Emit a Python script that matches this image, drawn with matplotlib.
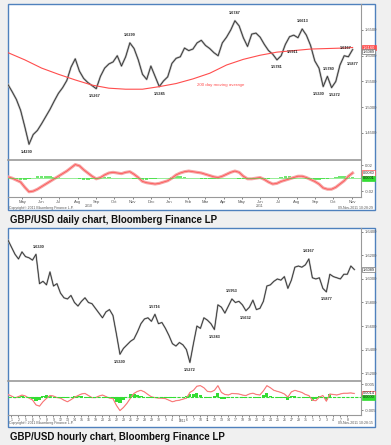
import matplotlib
matplotlib.use("Agg")
import matplotlib.pyplot as plt
import matplotlib.dates as mdates
from matplotlib.patches import Rectangle
import pandas as pd
import numpy as np

W, H = 391, 445

# ---------------- daily chart (weekly readings) ----------------
daily_close = [
    1.544, 1.530, 1.515, 1.494, 1.462, 1.428, 1.447, 1.455, 1.468, 1.482,
    1.496, 1.512, 1.527, 1.538, 1.552, 1.578, 1.594, 1.570, 1.556, 1.548,
    1.542, 1.536, 1.560, 1.576, 1.584, 1.588, 1.600, 1.580, 1.598, 1.625,
    1.614, 1.592, 1.564, 1.554, 1.580, 1.560, 1.540, 1.551, 1.559, 1.585,
    1.595, 1.598, 1.615, 1.610, 1.613, 1.625, 1.630, 1.620, 1.614, 1.606,
    1.600, 1.625, 1.636, 1.650, 1.668, 1.658, 1.635, 1.618, 1.642, 1.644,
    1.636, 1.622, 1.610, 1.603, 1.592, 1.600, 1.622, 1.637, 1.640, 1.635,
    1.652, 1.640, 1.620, 1.590, 1.576, 1.540, 1.560, 1.538, 1.550, 1.582,
    1.600, 1.598, 1.612,
]
ma200_week = [0, 4, 8, 12, 16, 20, 24, 28, 32, 36, 40, 44, 48, 52, 56, 60, 64, 68, 72, 76, 80, 82]
ma200 = [1.606, 1.592, 1.576, 1.564, 1.553, 1.543, 1.537, 1.535, 1.535, 1.540, 1.546,
         1.555, 1.566, 1.582, 1.593, 1.601, 1.607, 1.610, 1.613, 1.614, 1.615, 1.616]
daily_macd = [
    0.002, 0.000, -0.003, -0.006, -0.014, -0.021, -0.020, -0.017, -0.013, -0.009,
    -0.005, -0.001, 0.003, 0.007, 0.011, 0.016, 0.021, 0.019, 0.013, 0.008,
    0.003, -0.001, 0.001, 0.005, 0.008, 0.009, 0.008, 0.007, 0.009, 0.010,
    0.006, 0.001, -0.005, -0.007, -0.008, -0.009, -0.008, -0.006, -0.004, 0.000,
    0.005, 0.008, 0.010, 0.011, 0.010, 0.009, 0.008, 0.006, 0.004, 0.002,
    0.001, 0.003, 0.006, 0.009, 0.011, 0.009, 0.003, -0.001, -0.001, 0.000,
    0.001, -0.002, -0.006, -0.009, -0.008, -0.005, -0.003, -0.001, 0.001, 0.003,
    0.003, 0.001, -0.002, -0.005, -0.009, -0.015, -0.017, -0.017, -0.014, -0.009,
    -0.004, 0.003, 0.008,
]
daily_hist = [
    0.000, -0.001, -0.002, -0.003, -0.003, -0.002, 0.001, 0.003, 0.004, 0.003,
    0.003, 0.002, 0.002, 0.001, 0.001, 0.001, 0.000, -0.002, -0.003, -0.003,
    -0.002, -0.001, 0.001, 0.002, 0.002, 0.001, 0.000, 0.000, 0.001, 0.000,
    -0.001, -0.002, -0.003, -0.003, -0.002, -0.001, 0.000, 0.001, 0.001, 0.002,
    0.003, 0.003, 0.002, 0.001, 0.000, 0.000, -0.001, -0.001, -0.001, -0.001,
    0.000, 0.001, 0.001, 0.001, 0.000, -0.001, -0.002, -0.002, -0.001, 0.000,
    -0.001, -0.001, -0.001, 0.000, 0.001, 0.002, 0.003, 0.003, 0.002, 0.001,
    0.000, -0.001, -0.002, -0.003, -0.003, -0.002, -0.001, 0.001, 0.002, 0.003,
    0.004, 0.003, 0.002,
]
daily_notes = [  # (text, week, above?, x shift in points)
    ("1.4230", 5, False, -2), ("1.5267", 21, False, -1), ("1.6299", 29, True, 0),
    ("1.5345", 36, False, 0), ("1.6747", 54, True, 0), ("1.5781", 64, False, 0),
    ("1.5911", 66, False, 5), ("1.6613", 70, True, 0), ("1.5780", 76, True, 1),
    ("1.5330", 75, False, -3), ("1.5272", 77, False, 2), ("1.6167", 80, True, 1),
    ("1.5877", 81, False, 3),
]
daily_yticks = [1.45, 1.50, 1.55, 1.60, 1.65]

# ---------------- hourly chart (readings every ~half day) ----------------
hourly_close = [
    1.633, 1.627, 1.621, 1.617, 1.623, 1.619, 1.618, 1.616, 1.621, 1.596,
    1.598, 1.595, 1.606, 1.594, 1.596, 1.588, 1.584, 1.583, 1.586, 1.580,
    1.577, 1.581, 1.584, 1.580, 1.579, 1.575, 1.571, 1.567, 1.572, 1.574,
    1.569, 1.553, 1.536, 1.541, 1.544, 1.547, 1.549, 1.555, 1.562, 1.566,
    1.567, 1.564, 1.570, 1.562, 1.563, 1.558, 1.552, 1.545, 1.543, 1.546,
    1.544, 1.540, 1.529, 1.545, 1.560, 1.558, 1.567, 1.565, 1.562, 1.557,
    1.578, 1.576, 1.571, 1.577, 1.583, 1.580, 1.581, 1.578, 1.573, 1.576,
    1.582, 1.574, 1.575, 1.581, 1.594, 1.595, 1.598, 1.600, 1.599, 1.602,
    1.592, 1.599, 1.610, 1.611, 1.610, 1.612, 1.617, 1.601, 1.600, 1.601,
    1.592, 1.589, 1.604, 1.602, 1.601, 1.600, 1.604, 1.604, 1.611, 1.608,
]
hourly_macd = [
    0.0010, 0.0004, -0.0003, 0.0002, 0.0008, 0.0004, -0.0004, -0.0011, -0.0030, -0.0035,
    -0.0018, -0.0005, 0.0006, 0.0004, -0.0002, -0.0004, -0.0012, -0.0018, -0.0010, -0.0001,
    0.0006, 0.0012, 0.0014, 0.0006, -0.0002, -0.0002, 0.0004, 0.0008, 0.0002, -0.0004,
    -0.0006, -0.0032, -0.0052, -0.0040, -0.0024, -0.0004, 0.0014, 0.0022, 0.0026, 0.0020,
    0.0010, 0.0001, -0.0002, -0.0004, -0.0004, -0.0006, -0.0012, -0.0018, -0.0014, -0.0012,
    -0.0008, -0.0004, 0.0018, 0.0026, 0.0042, 0.0044, 0.0036, 0.0022, 0.0020, 0.0026,
    0.0044, 0.0018, 0.0010, 0.0008, 0.0014, 0.0013, 0.0012, 0.0008, 0.0006, 0.0012,
    0.0015, 0.0010, 0.0008, 0.0024, 0.0044, 0.0036, 0.0026, 0.0022, 0.0018, 0.0012,
    0.0000, 0.0020, 0.0026, 0.0022, 0.0018, 0.0010, 0.0006, -0.0012, -0.0014, 0.0000,
    0.0006, -0.0016, 0.0012, 0.0010, 0.0008, 0.0012, 0.0015, 0.0015, 0.0016, 0.0014,
]
hourly_hist = [
    0.0002, 0.0000, -0.0004, 0.0002, 0.0004, 0.0000, -0.0004, -0.0008, -0.0016, -0.0010,
    0.0006, 0.0008, 0.0006, 0.0000, -0.0004, -0.0002, -0.0004, -0.0002, 0.0002, 0.0004,
    0.0004, 0.0004, 0.0002, -0.0002, -0.0002, 0.0000, 0.0002, 0.0002, -0.0002, -0.0004,
    -0.0006, -0.0018, -0.0022, -0.0010, 0.0002, 0.0010, 0.0012, 0.0008, 0.0004, 0.0000,
    -0.0002, -0.0002, 0.0000, 0.0000, -0.0002, -0.0002, -0.0004, -0.0004, 0.0000, 0.0002,
    0.0002, 0.0004, 0.0012, 0.0010, 0.0014, 0.0008, 0.0000, -0.0004, 0.0000, 0.0006,
    0.0016, -0.0006, -0.0006, -0.0002, 0.0002, 0.0000, 0.0000, -0.0002, -0.0002, 0.0002,
    0.0002, -0.0002, -0.0002, 0.0008, 0.0016, 0.0004, 0.0000, -0.0002, -0.0002, -0.0004,
    -0.0010, 0.0006, 0.0006, 0.0000, 0.0000, -0.0004, -0.0004, -0.0016, -0.0008, 0.0006,
    0.0002, -0.0012, 0.0010, 0.0002, 0.0000, 0.0002, 0.0002, 0.0000, 0.0002, 0.0000,
]
hourly_notes = [
    ("1.6330", 8, True, 2), ("1.5330", 32, False, 0), ("1.5716", 42, True, 0),
    ("1.5272", 52, False, 0), ("1.5343", 59, False, 0), ("1.5953", 64, True, 0),
    ("1.5632", 68, False, 0), ("1.6167", 86, True, 0), ("1.5877", 91, False, 0),
]
hourly_days = ["1", "2", "5", "6", "7", "8", "9", "12", "13", "14", "15", "16", "19", "20",
               "21", "22", "23", "26", "27", "28", "29", "30", "3", "4", "5", "6", "7",
               "10", "11", "12", "13", "14", "17", "18", "19", "20", "21", "24", "25",
               "26", "27", "28", "31", "1", "2", "3", "4", "7", "8"]
hourly_yticks = [1.52, 1.54, 1.56, 1.58, 1.60, 1.62, 1.64]

# ---------------- styling ----------------
BG = "#f0f0f0"
BLUE = "#4f81bd"
TXT = "#555555"
RED = "#ff4d4d"
PINK = "#f6a3a3"
GREEN = "#33dd33"
plt.rcParams["font.family"] = ["Liberation Sans", "DejaVu Sans"]


def rect(x0, y0, x1, y1):
    return [x0 / W, 1 - y1 / H, (x1 - x0) / W, (y1 - y0) / H]


def frame(fig, x0, y0, x1, y1):
    fig.add_artist(Rectangle((x0 / W, 1 - y1 / H), (x1 - x0) / W, (y1 - y0) / H,
                             transform=fig.transFigure, facecolor="white",
                             edgecolor=BLUE, lw=1.0, zorder=0))


def style(ax, bottom=True):
    ax.set_facecolor("none")
    for s in ("top", "left"):
        ax.spines[s].set_visible(False)
    ax.spines["right"].set_color("#999999")
    ax.spines["right"].set_linewidth(0.8)
    ax.spines["bottom"].set_color("#999999")
    ax.spines["bottom"].set_linewidth(1.2 if bottom else 0.8)
    ax.yaxis.tick_right()
    ax.tick_params(axis="y", length=1.5, width=0.5, pad=1, labelsize=3, colors=TXT)
    ax.tick_params(axis="x", length=1.5, width=0.5, pad=0.5, labelsize=3, colors=TXT)


def tag(ax, y, text, face, edge, color):
    ax.text(1.005, y, text, transform=ax.get_yaxis_transform(), fontsize=2.8,
            color=color, va="center", ha="left",
            bbox=dict(boxstyle="square,pad=0.15", facecolor=face, edgecolor=edge, lw=0.5))


def notes(ax, xs, ys, items):
    for txt, i, up, dx in items:
        ax.annotate(txt, (xs[i], ys[i]), xytext=(dx, 4 if up else -4),
                    textcoords="offset points", ha="center", va="bottom" if up else "top",
                    fontsize=2.8, color="#222222", fontweight="bold")


fig = plt.figure(figsize=(W / 100, H / 100), dpi=100, facecolor=BG)

# ================= daily chart =================
frame(fig, 8, 4, 375, 210)
weeks = pd.date_range("2010-04-07", periods=len(daily_close), freq="7D")
x_end = weeks[0] + pd.Timedelta(days=588)

ax1 = fig.add_axes(rect(8, 4, 361, 160))
style(ax1)
ax1.plot(weeks, daily_close, color="#b4b4b4", lw=1.5)
ax1.plot(weeks, daily_close, color="#2a2a2a", lw=0.55)
ax1.plot(weeks[ma200_week], ma200, color=RED, lw=0.8)
ax1.set_xlim(weeks[0], x_end)
ax1.set_ylim(1.3975, 1.7005)
ax1.set_yticks(daily_yticks)
ax1.set_yticklabels([f"{v:.4f}" for v in daily_yticks])
ax1.set_xticks([])
notes(ax1, weeks, daily_close, daily_notes)
ax1.text(weeks[45], 1.544, "200 day moving average", fontsize=3.2, color=RED, va="center")
tag(ax1, ma200[-1], f"{ma200[-1]:.4f}", RED, RED, "white")
tag(ax1, daily_close[-1] - 0.004, "1.6089", "white", "#777777", "#222222")

ax2 = fig.add_axes(rect(8, 160, 361, 197))
style(ax2, bottom=False)
ax2.plot(weeks, daily_macd, color=PINK, lw=2.2)
ax2.plot(weeks, daily_macd, color=RED, lw=0.5)
ax2.bar(weeks, daily_hist, width=6, color=GREEN, alpha=0.7)
ax2.axhline(0, color=GREEN, lw=0.6, alpha=0.6)
ax2.set_xlim(weeks[0], x_end)
ax2.set_ylim(-0.029, 0.028)
ax2.set_yticks([-0.02, 0.02])
ax2.set_yticklabels(["-0.02", "0.02"])
ax2.xaxis.set_major_locator(mdates.MonthLocator())
ax2.xaxis.set_major_formatter(mdates.DateFormatter("%b"))
ax2.text(pd.Timestamp("2010-08-20"), -0.0425, "2010", fontsize=2.5, color=TXT, ha="center", va="center")
ax2.text(pd.Timestamp("2011-06-01"), -0.0425, "2011", fontsize=2.5, color=TXT, ha="center", va="center")
tag(ax2, daily_macd[-1], f"{daily_macd[-1]:.4f}", "white", RED, "#222222")
tag(ax2, 0.0001, "0.0001", GREEN, GREEN, "#111111")
fig.text(9 / W, 1 - 208 / H, "Copyright\u00a9 2011 Bloomberg Finance L.P.", fontsize=2.5, color=TXT, va="center")
fig.text(373 / W, 1 - 208 / H, "09-Nov-2011 10:28:29", fontsize=2.5, color=TXT, va="center", ha="right")

fig.text(10 / W, 1 - 220 / H, "GBP/USD daily chart, Bloomberg Finance LP", fontsize=7.0,
         fontweight="bold", color="#111111", va="center")

# ================= hourly chart =================
frame(fig, 8, 228, 375, 427)
hx = np.arange(len(hourly_close))
hx_end = 100.9

ax3 = fig.add_axes(rect(8, 228, 361, 381))
style(ax3)
ax3.plot(hx, hourly_close, color="#b4b4b4", lw=1.3)
ax3.plot(hx, hourly_close, color="#2a2a2a", lw=0.55)
ax3.set_xlim(0, hx_end)
ax3.set_ylim(1.5133, 1.6433)
ax3.set_yticks(hourly_yticks)
ax3.set_yticklabels([f"{v:.4f}" for v in hourly_yticks])
ax3.set_xticks([])
notes(ax3, hx, hourly_close, hourly_notes)
tag(ax3, hourly_close[-1], "1.6089", "white", "#777777", "#222222")

ax4 = fig.add_axes(rect(8, 381, 361, 415))
style(ax4, bottom=False)
ax4.plot(hx, hourly_macd, color=PINK, lw=0.9)
ax4.plot(hx, hourly_macd, color=RED, lw=0.3)
ax4.bar(hx, hourly_hist, width=0.9, color=GREEN)
ax4.axhline(0, color=GREEN, lw=0.8, ls=(0, (3, 1)))
ax4.set_xlim(0, hx_end)
ax4.set_ylim(-0.0069, 0.0062)
ax4.set_yticks([-0.005, 0.005])
ax4.set_yticklabels(["-0.005", "0.005"])
ax4.set_xticks(np.arange(len(hourly_days)) * 2 + 1)
ax4.set_xticklabels(hourly_days)
ax4.tick_params(axis="x", labelsize=2.6)
ax4.text(hx[50], -0.0096, "2011", fontsize=2.4, color=TXT, ha="center")
tag(ax4, hourly_macd[-1], f"{hourly_macd[-1]:.4f}", "white", RED, "#222222")
tag(ax4, 0.0, "0.0000", GREEN, GREEN, "#111111")
fig.text(9 / W, 1 - 423 / H, "Copyright\u00a9 2011 Bloomberg Finance L.P.", fontsize=2.5, color=TXT, va="center")
fig.text(373 / W, 1 - 423 / H, "09-Nov-2011 10:28:15", fontsize=2.5, color=TXT, va="center", ha="right")

fig.text(10 / W, 1 - 437 / H, "GBP/USD hourly chart, Bloomberg Finance LP", fontsize=7.0,
         fontweight="bold", color="#111111", va="center")

fig.savefig("out.png", dpi=100, facecolor=BG)
